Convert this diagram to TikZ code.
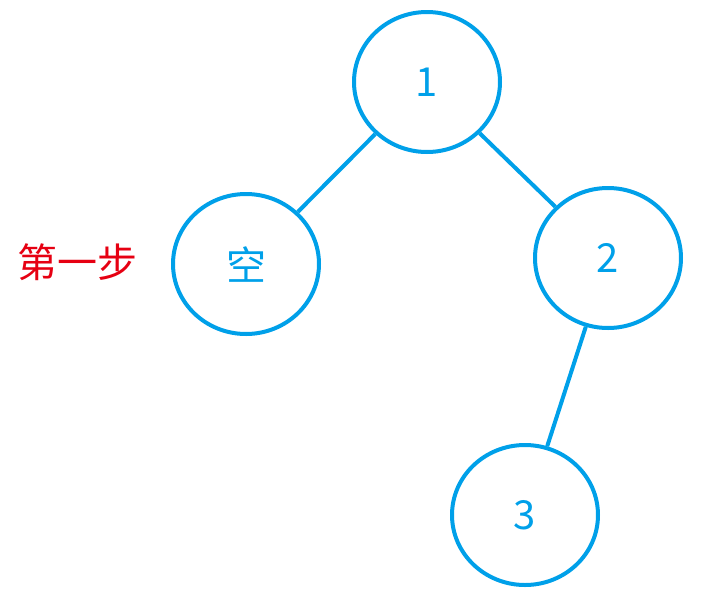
\documentclass[tikz,border=0pt]{standalone}
\usepackage{fontspec}
\setmainfont{Noto Sans CJK SC}
\usetikzlibrary{shapes.geometric}
\definecolor{treeblue}{RGB}{0,160,233}
\definecolor{stepred}{RGB}{230,0,18}
\begin{document}
\begin{tikzpicture}[x=1pt,y=-1pt,
  treenode/.style={ellipse, draw=treeblue, line width=4pt, minimum width=146pt, minimum height=140pt, inner sep=0pt, text=treeblue, font=\fontsize{40}{44}\selectfont},
  edge/.style={draw=treeblue, line width=4pt}]
\useasboundingbox (0,0) rectangle (705,595);
\node[treenode] (n1) at (427,82) {1};
\node[treenode] (nk) at (246,264) {空};
\node[treenode] (n2) at (608,258) {2};
\node[treenode] (n3) at (525,515) {3};
\node[text=stepred, font=\fontsize{40}{44}\selectfont] (lbl) at (77,262) {第一步};
\draw[edge] (n1) -- (nk);
\draw[edge] (n1) -- (n2);
\draw[edge] (n2) -- (n3);
\end{tikzpicture}
\end{document}
